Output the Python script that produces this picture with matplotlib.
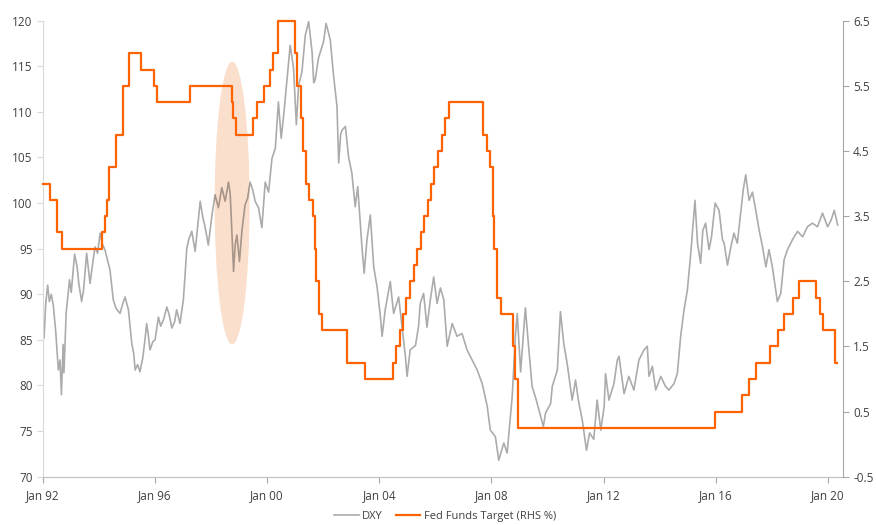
import matplotlib
matplotlib.use("Agg")
import matplotlib.pyplot as plt
from matplotlib.patches import Ellipse

# DXY, sampled through the period (decimal year, index level)
dxy_year = [
    1992.00, 1992.04, 1992.10, 1992.17, 1992.23, 1992.30, 1992.37, 1992.46, 1992.55, 1992.61,
    1992.66, 1992.72, 1992.75, 1992.83, 1992.95, 1993.01, 1993.13, 1993.22, 1993.28, 1993.38,
    1993.45, 1993.56, 1993.62, 1993.68, 1993.78, 1993.86, 1993.95, 1994.04, 1994.12, 1994.21,
    1994.30, 1994.39, 1994.51, 1994.60, 1994.75, 1994.85, 1994.93, 1995.05, 1995.17, 1995.24,
    1995.29, 1995.38, 1995.46, 1995.56, 1995.64, 1995.70, 1995.76, 1995.82, 1995.92, 1996.00,
    1996.12, 1996.20, 1996.30, 1996.42, 1996.50, 1996.60, 1996.70, 1996.77, 1996.89, 1997.01,
    1997.07, 1997.13, 1997.20, 1997.31, 1997.43, 1997.52, 1997.61, 1997.70, 1997.79, 1997.90,
    1998.03, 1998.14, 1998.26, 1998.38, 1998.50, 1998.62, 1998.68, 1998.74, 1998.80, 1998.86,
    1998.92, 1999.01, 1999.10, 1999.21, 1999.30, 1999.39, 1999.48, 1999.57, 1999.69, 1999.81,
    1999.93, 2000.05, 2000.17, 2000.29, 2000.40, 2000.50, 2000.60, 2000.70, 2000.82, 2000.94,
    2001.04, 2001.12, 2001.24, 2001.36, 2001.48, 2001.60, 2001.66, 2001.71, 2001.83, 2002.01,
    2002.10, 2002.16, 2002.25, 2002.37, 2002.49, 2002.55, 2002.62, 2002.67, 2002.79, 2002.90,
    2003.02, 2003.14, 2003.23, 2003.38, 2003.46, 2003.56, 2003.68, 2003.80, 2003.92, 2004.04,
    2004.10, 2004.21, 2004.39, 2004.51, 2004.69, 2004.81, 2004.93, 2004.99, 2005.10, 2005.29,
    2005.40, 2005.46, 2005.58, 2005.70, 2005.82, 2005.94, 2006.06, 2006.18, 2006.30, 2006.42,
    2006.60, 2006.77, 2006.95, 2007.13, 2007.31, 2007.49, 2007.67, 2007.85, 2007.96, 2008.14,
    2008.26, 2008.44, 2008.56, 2008.74, 2008.86, 2008.92, 2009.04, 2009.21, 2009.33, 2009.45,
    2009.60, 2009.85, 2009.93, 2010.11, 2010.17, 2010.35, 2010.46, 2010.58, 2010.70, 2010.88,
    2011.00, 2011.10, 2011.24, 2011.39, 2011.50, 2011.65, 2011.77, 2011.90, 2012.02, 2012.07,
    2012.19, 2012.30, 2012.37, 2012.49, 2012.55, 2012.73, 2012.90, 2013.08, 2013.26, 2013.44,
    2013.56, 2013.62, 2013.74, 2013.86, 2014.04, 2014.21, 2014.33, 2014.51, 2014.63, 2014.75,
    2014.87, 2014.99, 2015.11, 2015.26, 2015.35, 2015.46, 2015.54, 2015.64, 2015.76, 2015.85,
    2015.98, 2016.12, 2016.24, 2016.30, 2016.42, 2016.54, 2016.65, 2016.77, 2016.89, 2016.98,
    2017.07, 2017.19, 2017.31, 2017.43, 2017.55, 2017.67, 2017.79, 2017.90, 2018.02, 2018.14,
    2018.20, 2018.32, 2018.44, 2018.56, 2018.74, 2018.92, 2019.10, 2019.27, 2019.45, 2019.63,
    2019.81, 2019.99, 2020.11, 2020.23, 2020.35,
]
dxy_value = [
    86.5, 85.2, 89.0, 91.0, 89.2, 90.0, 88.8, 85.8, 81.7, 82.8,
    79.0, 84.5, 81.4, 88.0, 91.6, 90.2, 94.4, 93.0, 91.2, 89.2,
    90.5, 94.5, 92.8, 91.2, 93.5, 95.2, 94.5, 96.7, 95.5, 94.9,
    93.8, 92.7, 89.4, 88.5, 87.9, 89.0, 89.7, 88.3, 84.6, 83.5,
    81.7, 82.3, 81.5, 83.0, 85.0, 86.8, 85.5, 83.9, 84.8, 85.0,
    87.5, 86.5, 87.2, 88.6, 87.8, 86.3, 87.0, 88.3, 86.8, 89.4,
    92.1, 95.0, 96.0, 96.9, 94.7, 97.5, 100.2, 98.5, 97.3, 95.4,
    98.7, 100.9, 99.5, 101.7, 100.2, 102.3, 101.0, 96.9, 92.5, 95.5,
    96.5, 93.6, 97.0, 99.8, 100.5, 102.3, 101.5, 100.2, 99.5, 97.3,
    102.3, 101.2, 104.9, 106.0, 111.1, 107.1, 110.0, 113.3, 117.3, 114.8,
    108.6, 112.9, 114.4, 118.4, 119.9, 116.6, 113.2, 113.5, 115.9, 117.7,
    119.7, 119.0, 117.9, 113.9, 110.6, 104.4, 107.5, 108.0, 108.4, 105.1,
    103.3, 99.6, 101.8, 95.2, 92.3, 96.0, 98.7, 93.0, 90.8, 87.5,
    85.4, 88.3, 91.4, 87.9, 89.7, 86.4, 83.2, 81.0, 83.9, 84.4,
    86.5, 89.0, 90.1, 86.4, 89.4, 91.9, 89.0, 90.7, 89.4, 84.3,
    86.8, 85.4, 85.7, 83.9, 82.8, 81.7, 80.2, 77.7, 75.1, 74.4,
    71.8, 73.7, 72.6, 78.8, 85.7, 87.9, 81.5, 88.5, 84.1, 79.9,
    78.4, 75.5, 77.0, 78.0, 79.9, 81.7, 88.1, 84.6, 82.4, 78.4,
    80.6, 78.4, 76.2, 72.9, 74.8, 74.1, 78.4, 75.1, 77.7, 81.3,
    78.4, 79.5, 80.2, 82.8, 83.2, 79.1, 81.0, 79.5, 82.8, 83.9,
    84.3, 81.0, 82.1, 79.5, 81.0, 79.9, 79.5, 80.2, 81.3, 85.4,
    88.3, 90.5, 94.5, 100.3, 95.6, 93.4, 97.0, 97.8, 94.9, 96.3,
    100.0, 99.2, 96.0, 95.6, 93.2, 95.2, 96.7, 95.6, 98.9, 101.4,
    103.1, 100.3, 101.2, 99.2, 97.0, 95.2, 93.0, 94.9, 93.0, 90.5,
    89.2, 90.1, 93.8, 94.9, 96.0, 96.9, 96.3, 97.4, 97.8, 97.4,
    98.9, 97.4, 98.1, 99.2, 97.6,
]

# Fed funds target rate changes (decimal year, % level from that date)
fed_year = [
    1992.00, 1992.27, 1992.50, 1992.68, 1994.09, 1994.22, 1994.29, 1994.37, 1994.62, 1994.87,
    1995.08, 1995.51, 1995.97, 1996.08, 1997.23, 1998.74, 1998.79, 1998.88, 1999.49, 1999.64,
    1999.87, 2000.09, 2000.22, 2000.37, 2001.00, 2001.08, 2001.21, 2001.29, 2001.37, 2001.49,
    2001.64, 2001.71, 2001.75, 2001.85, 2001.94, 2002.85, 2003.48, 2004.49, 2004.61, 2004.72,
    2004.86, 2004.95, 2005.09, 2005.22, 2005.34, 2005.49, 2005.60, 2005.72, 2005.83, 2005.95,
    2006.08, 2006.24, 2006.36, 2006.49, 2007.71, 2007.83, 2007.94, 2008.06, 2008.08, 2008.21,
    2008.33, 2008.77, 2008.83, 2008.96, 2015.96, 2016.95, 2017.20, 2017.45, 2017.95, 2018.22,
    2018.45, 2018.74, 2018.97, 2019.58, 2019.71, 2019.83, 2020.24, 2020.33,
]
fed_rate = [
    4.00, 3.75, 3.25, 3.00, 3.25, 3.50, 3.75, 4.25, 4.75, 5.50,
    6.00, 5.75, 5.50, 5.25, 5.50, 5.25, 5.00, 4.75, 5.00, 5.25,
    5.50, 5.75, 6.00, 6.50, 6.00, 5.50, 5.00, 4.50, 4.00, 3.75,
    3.50, 3.00, 2.50, 2.00, 1.75, 1.25, 1.00, 1.25, 1.50, 1.75,
    2.00, 2.25, 2.50, 2.75, 3.00, 3.25, 3.50, 3.75, 4.00, 4.25,
    4.50, 4.75, 5.00, 5.25, 4.75, 4.50, 4.25, 3.50, 3.00, 2.25,
    2.00, 1.50, 1.00, 0.25, 0.50, 0.75, 1.00, 1.25, 1.50, 1.75,
    2.00, 2.25, 2.50, 2.25, 2.00, 1.75, 1.25, 1.25,
]

tick_years = [1992, 1996, 2000, 2004, 2008, 2012, 2016, 2020]
tick_labels = ["Jan 92", "Jan 96", "Jan 00", "Jan 04", "Jan 08", "Jan 12", "Jan 16", "Jan 20"]
left_ticks = [70, 75, 80, 85, 90, 95, 100, 105, 110, 115, 120]
right_ticks = [-0.5, 0.5, 1.5, 2.5, 3.5, 4.5, 5.5, 6.5]

text_col = "#404040"
plt.rcParams["font.family"] = ["Open Sans", "DejaVu Sans"]
plt.rcParams["font.size"] = 8

fig = plt.figure(figsize=(8.76, 5.25), dpi=100)
ax = fig.add_axes([0.049, 0.092, 0.913, 0.8686])
ax2 = ax.twinx()

# highlight around the late-1998 episode
ax.add_patch(Ellipse((1998.75, 100), 1.25, 31, facecolor="#F4B183", alpha=0.4,
                     edgecolor="none", zorder=1))

l1, = ax.plot(dxy_year, dxy_value, color=(0, 0, 0, 0.33), lw=1.2, zorder=2, label="DXY")
l2, = ax2.plot(fed_year, fed_rate, color="#FF6200", lw=1.6, drawstyle="steps-post",
               clip_on=False, label="Fed Funds Target (RHS %)")

ax.set_xlim(1992, 2020.53)
ax.set_ylim(70, 120)
ax2.set_ylim(-0.5, 6.5)
ax.set_xticks(tick_years)
ax.set_xticklabels(tick_labels)
ax.set_yticks(left_ticks)
ax2.set_yticks(right_ticks)
ax2.set_yticklabels([f"{t:.1f}" for t in right_ticks])

for a in (ax, ax2):
    a.spines["top"].set_visible(False)
    a.tick_params(colors="#A6A6A6", labelcolor=text_col, length=4, width=0.8, labelsize=8.5)
ax.spines["right"].set_visible(False)
ax.spines["left"].set_color("#D9D9D9")
ax.spines["bottom"].set_color("#BFBFBF")
ax2.spines["left"].set_visible(False)
ax2.spines["bottom"].set_visible(False)
ax2.spines["right"].set_color("#A6A6A6")
ax.tick_params(axis="y", colors="#D9D9D9", labelcolor=text_col)
ax.tick_params(axis="x", pad=5)

fig.legend(handles=[l1, l2], loc="center", bbox_to_anchor=(0.508, 0.016), ncol=2,
           frameon=False, handlelength=2.2, columnspacing=1.2, handletextpad=0.3,
           labelcolor=text_col)

fig.savefig("out.png", dpi=100)
